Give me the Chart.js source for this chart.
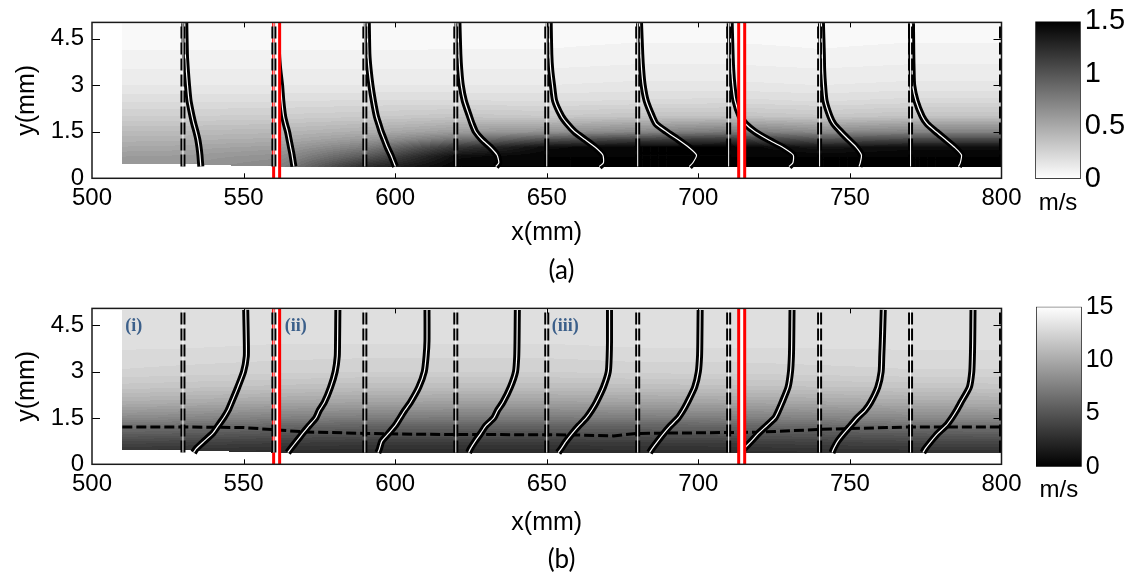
<!DOCTYPE html>
<html>
<head>
<meta charset="utf-8">
<script src="https://cdn.jsdelivr.net/npm/chart.js@4.4.1/dist/chart.umd.min.js"></script>
<style>
  html, body { margin: 0; padding: 0; background: #fff; }
  #wrap { position: relative; width: 1127px; height: 573px; overflow: hidden; }
  canvas { position: absolute; }
</style>
</head>
<body>
<div id="wrap">
  <canvas id="mainA" width="1127" height="286" style="left:0;top:0"></canvas>
  <canvas id="barA" width="112" height="286" style="left:1015px;top:0"></canvas>
  <canvas id="mainB" width="1127" height="287" style="left:0;top:286px"></canvas>
  <canvas id="barB" width="112" height="287" style="left:1015px;top:286px"></canvas>
</div>
<script>
// axes
const xTicks = [500, 550, 600, 650, 700, 750, 800];
const yTicks = [0, 1.5, 3, 4.5];
const cbTicksA = [0, 0.5, 1, 1.5];
const cbTicksB = [0, 5, 10, 15];

// measurement stations (mm) and probe positions (red)
const stations = [530, 560, 590, 620, 650, 680, 710, 740, 770];
const refLines = [530, 560, 590, 620, 650, 680, 710, 740, 770, 800];
const refLineBottom = 0.38;
const probeX = [560.9, 714.3];

// profile heights (mm) and displacement from each station (mm)
const profileY = [0.38, 0.5, 0.75, 1.0, 1.25, 1.5, 1.75, 2.0, 2.5, 3.0, 3.5, 4.0, 5.0];
const profileA = [
  [5.9, 5.8, 5.6, 5.3, 4.9, 4.3, 3.6, 3.0, 2.0, 1.5, 1.1, 0.8, 0.6],
  [6.6, 6.4, 6.0, 5.5, 5.0, 4.5, 3.8, 3.2, 2.6, 2.2, 1.6, 1.2, 1.0],
  [10.1, 9.6, 8.6, 7.4, 6.4, 5.4, 4.6, 3.8, 2.8, 2.0, 1.4, 1.0, 0.8],
  [13.2, 14.2, 13.6, 11.4, 8.6, 6.5, 5.4, 4.5, 2.8, 1.8, 1.3, 1.0, 0.7],
  [17.3, 18.7, 18.5, 16.0, 12.6, 9.2, 6.8, 4.9, 2.6, 1.9, 1.3, 1.0, 0.8],
  [17.0, 18.2, 19.4, 16.8, 13.3, 9.5, 6.1, 4.8, 2.8, 1.8, 1.3, 1.0, 0.6],
  [19.9, 21.2, 21.3, 17.8, 13.0, 8.7, 5.6, 3.8, 2.1, 1.4, 1.0, 0.8, 0.5],
  [13.0, 13.4, 13.8, 12.1, 9.5, 7.0, 4.7, 3.4, 1.8, 1.3, 1.0, 0.9, 0.6],
  [15.8, 16.4, 16.8, 14.5, 11.5, 8.4, 5.5, 3.8, 1.8, 0.7, 0.5, 0.4, 0.3]
];
const profileB = [
  [3.5, 4.3, 7.0, 9.8, 11.6, 13.4, 14.9, 16.0, 18.1, 20.0, 20.9, 20.9, 20.7],
  [4.6, 5.5, 7.5, 9.5, 11.6, 13.8, 15.0, 16.6, 18.7, 20.2, 20.9, 21.0, 21.1],
  [4.3, 4.8, 5.6, 7.8, 10.0, 11.6, 13.2, 15.0, 17.8, 19.6, 20.2, 20.5, 20.5],
  [4.2, 4.8, 6.4, 8.2, 9.9, 12.5, 13.8, 15.5, 18.0, 19.7, 20.1, 20.2, 20.3],
  [3.8, 4.7, 6.4, 8.4, 10.6, 13.0, 14.8, 16.3, 18.7, 20.3, 20.6, 20.7, 20.7],
  [3.9, 4.7, 6.6, 8.6, 10.8, 13.3, 15.0, 16.4, 18.8, 20.0, 20.4, 20.5, 20.6],
  [4.0, 5.0, 7.5, 9.8, 12.5, 15.2, 16.5, 17.6, 19.6, 20.4, 20.7, 20.8, 20.9],
  [4.1, 4.6, 6.0, 8.0, 10.2, 12.4, 15.0, 16.8, 19.2, 20.3, 20.5, 20.7, 21.0],
  [4.1, 4.8, 6.8, 9.0, 11.7, 13.6, 15.2, 16.6, 19.4, 20.2, 20.4, 20.5, 20.6]
];

// dashed layer edge in panel (b)
const edgeX = [510, 530, 550, 560, 570, 590, 610, 640, 660, 672, 680, 700, 710, 720, 740, 770, 800];
const edgeY = [1.21, 1.21, 1.19, 1.12, 1.05, 1.0, 0.97, 0.96, 0.95, 0.92, 1.0, 1.02, 1.03, 1.04, 1.13, 1.21, 1.21];

// contour field grid
const fieldX = [510, 530, 560, 590, 620, 650, 680, 710, 740, 770, 800];
const fieldY = [0.4, 0.7, 1.0, 1.25, 1.5, 2.0, 2.5, 3.0, 4.0, 5.0];
const fieldA = [
  [0.62, 0.64, 0.72, 1.25, 1.5, 1.5, 1.5, 1.5, 1.5, 1.5, 1.5],
  [0.6, 0.61, 0.66, 1.0, 1.45, 1.5, 1.5, 1.5, 1.5, 1.5, 1.5],
  [0.53, 0.54, 0.58, 0.78, 1.2, 1.45, 1.5, 1.5, 1.4, 1.45, 1.45],
  [0.47, 0.48, 0.5, 0.62, 0.85, 1.05, 1.15, 1.2, 1.05, 1.1, 1.1],
  [0.42, 0.42, 0.44, 0.5, 0.6, 0.65, 0.72, 0.8, 0.7, 0.75, 0.75],
  [0.3, 0.3, 0.31, 0.33, 0.36, 0.34, 0.37, 0.38, 0.35, 0.38, 0.38],
  [0.22, 0.22, 0.22, 0.23, 0.23, 0.22, 0.23, 0.24, 0.22, 0.24, 0.24],
  [0.15, 0.15, 0.15, 0.15, 0.15, 0.15, 0.16, 0.16, 0.15, 0.16, 0.16],
  [0.08, 0.08, 0.08, 0.08, 0.08, 0.08, 0.09, 0.09, 0.08, 0.09, 0.09],
  [0.04, 0.04, 0.04, 0.04, 0.05, 0.05, 0.05, 0.05, 0.05, 0.05, 0.05]
];
const fieldB = [
  [3.2, 3.0, 2.8, 2.7, 2.7, 2.7, 2.8, 2.8, 3.0, 3.1, 3.2],
  [4.3, 4.1, 3.8, 3.6, 3.6, 3.6, 3.7, 3.8, 4.0, 4.2, 4.3],
  [5.8, 5.6, 5.2, 5.0, 5.0, 5.0, 5.1, 5.2, 5.4, 5.6, 5.8],
  [6.9, 6.7, 6.3, 6.1, 6.0, 6.0, 6.1, 6.2, 6.5, 6.8, 6.9],
  [8.3, 8.1, 7.7, 7.5, 7.4, 7.4, 7.5, 7.6, 7.9, 8.2, 8.3],
  [10.4, 10.2, 9.9, 9.7, 9.6, 9.6, 9.7, 9.8, 10.0, 10.2, 10.3],
  [11.8, 11.7, 11.5, 11.3, 11.3, 11.3, 11.4, 11.5, 11.6, 11.7, 11.8],
  [12.7, 12.6, 12.5, 12.4, 12.4, 12.4, 12.5, 12.5, 12.6, 12.7, 12.7],
  [13.3, 13.3, 13.2, 13.2, 13.2, 13.2, 13.3, 13.3, 13.3, 13.3, 13.3],
  [13.5, 13.5, 13.5, 13.5, 13.5, 13.5, 13.5, 13.5, 13.5, 13.5, 13.5]
];
const wallX = [510, 530, 550, 570, 800];
const wallY = [0.47, 0.46, 0.4, 0.36, 0.36];

// region tags in panel (b)
const tagText = ["(i)", "(ii)", "(iii)"];
const tagX = [513.8, 567.2, 656.1];
const tagY = 4.46;

const FAMILY = "Arial, \"Liberation Sans\", sans-serif";
Chart.defaults.font.family = FAMILY;
Chart.defaults.color = "#000";

function lerp(xs, ys, v) {
    if (v <= xs[0]) return ys[0];
    for (let i = 0; i < xs.length - 1; i++) {
        if (v <= xs[i + 1]) {
            const t = (v - xs[i]) / (xs[i + 1] - xs[i]);
            return ys[i] + t * (ys[i + 1] - ys[i]);
        }
    }
    return ys[ys.length - 1];
}

function cell(arr, v) {
    if (v <= arr[0]) return [0, 0];
    for (let i = 0; i < arr.length - 1; i++) {
        if (v <= arr[i + 1]) return [i, (v - arr[i]) / (arr[i + 1] - arr[i])];
    }
    return [arr.length - 2, 1];
}

function sample(values, xv, yv) {
    const [i, tx] = cell(fieldX, xv);
    const [j, ty] = cell(fieldY, yv);
    const a = values[j][i] * (1 - tx) + values[j][i + 1] * tx;
    const b = values[j + 1][i] * (1 - tx) + values[j + 1][i + 1] * tx;
    return a * (1 - ty) + b * ty;
}

function makeFieldPlugin(values, maxVal, gray) {
    const step = maxVal / 40;
    return {
        id: "field",
        beforeDatasetsDraw(chart) {
            const { ctx, chartArea: a, scales: { x, y } } = chart;
            const left = Math.max(Math.floor(a.left), Math.floor(x.getPixelForValue(fieldX[0])));
            const right = Math.min(Math.ceil(a.right), Math.ceil(x.getPixelForValue(fieldX[fieldX.length - 1])));
            const top = Math.ceil(a.top);
            const bottom = Math.floor(a.bottom);
            const w = right - left;
            const h = bottom - top;
            const off = document.createElement("canvas");
            off.width = w;
            off.height = h;
            const octx = off.getContext("2d");
            const img = octx.createImageData(w, h);
            const yTop = fieldY[fieldY.length - 1];
            for (let i = 0; i < w; i++) {
                const xv = x.getValueForPixel(left + i + 0.5);
                const wall = lerp(wallX, wallY, xv);
                for (let j = 0; j < h; j++) {
                    const yv = y.getValueForPixel(top + j + 0.5);
                    if (yv < wall || yv > yTop) continue;
                    let v = sample(values, xv, yv);
                    v = Math.min(maxVal, Math.floor(v / step) * step);
                    const g = Math.round(gray(v));
                    const k = (j * w + i) * 4;
                    img.data[k] = g;
                    img.data[k + 1] = g;
                    img.data[k + 2] = g;
                    img.data[k + 3] = 255;
                }
            }
            octx.putImageData(img, 0, 0);
            ctx.save();
            ctx.beginPath();
            ctx.rect(a.left, a.top, a.width, a.height);
            ctx.clip();
            ctx.drawImage(off, left, top);
            ctx.restore();
        }
    };
}

function makeFramePlugin(p) {
    return {
        id: "frame",
        afterDraw(chart) {
            const { ctx, chartArea: a, scales: { x, y } } = chart;
            ctx.save();
            if (p.edge) {
                ctx.fillStyle = "#3b5f8a";
                ctx.font = "bold 18px \"Liberation Serif\", \"Times New Roman\", serif";
                ctx.textAlign = "center";
                ctx.textBaseline = "middle";
                tagText.forEach((t, i) => ctx.fillText(t, x.getPixelForValue(tagX[i]), y.getPixelForValue(tagY)));
            }
            // panel caption
            ctx.fillStyle = "#000";
            ctx.font = "26px Lato, \"Open Sans\", sans-serif";
            ctx.textAlign = "center";
            ctx.textBaseline = "middle";
            ctx.fillText(p.label, chart.width / 2 - 2, p.labelY);

            ctx.strokeStyle = "#000";
            ctx.lineWidth = 1;
            ctx.beginPath();
            xTicks.slice(1, -1).forEach(v => {
                const px = Math.round(x.getPixelForValue(v)) + 0.5;
                ctx.moveTo(px, a.bottom);
                ctx.lineTo(px, a.bottom - 5);
                ctx.moveTo(px, a.top);
                ctx.lineTo(px, a.top + 5);
            });
            yTicks.slice(1).forEach(v => {
                const py = Math.round(y.getPixelForValue(v)) + 0.5;
                ctx.moveTo(a.left, py);
                ctx.lineTo(a.left + 8, py);
                ctx.moveTo(a.right, py);
                ctx.lineTo(a.right - 8, py);
            });
            ctx.stroke();
            ctx.strokeStyle = "#1a1a1a";
            ctx.lineWidth = 1.5;
            ctx.strokeRect(a.left, a.top, a.width, a.height);
            ctx.restore();
        }
    };
}

function line(data, color, width, order, extra) {
    return Object.assign({ data, borderColor: color, borderWidth: width, order, showLine: true, pointRadius: 0, tension: 0, fill: false, borderCapStyle: "butt" }, extra || {});
}

function makePanel(id, p) {
    const datasets = [];
    if (p.edge) {
        datasets.push(line(edgeX.map((x, i) => ({ x, y: edgeY[i] })), "#000", 3, 6, { borderDash: [10, 4] }));
    }
    stations.forEach((s, i) => {
        const pts = profileY.map((y, k) => ({ x: s + p.profile[i][k], y }));
        datasets.push(line(pts, "#000", 7, 5, { tension: 0.2, borderJoinStyle: "round" }));
        datasets.push(line(pts, "#fff", 1.2, 4, { tension: 0.2 }));
    });
    probeX.forEach(px => {
        const pts = [{ x: px, y: 0 }, { x: px, y: 5.2 }];
        datasets.push(line(pts, "#ff0000", 9, 3));
        datasets.push(line(pts, "#fff", 3, 2));
    });
    refLines.forEach(s => {
        const pts = [{ x: s, y: refLineBottom }, { x: s, y: 5.2 }];
        datasets.push(line(pts, "#000", 5, 1, { borderDash: [12, 4] }));
        datasets.push(line(pts, "#fff", 1, 0));
    });

    return new Chart(document.getElementById(id), {
        type: "scatter",
        data: { datasets },
        options: {
            responsive: false,
            animation: false,
            devicePixelRatio: 1,
            events: [],
            layout: { padding: { left: 0, top: p.top, right: 125.5, bottom: 0 } },
            plugins: {
                legend: { display: false },
                tooltip: { enabled: false }
            },
            scales: {
                x: {
                    type: "linear",
                    min: 500,
                    max: 800,
                    grid: { display: false, drawTicks: false },
                    border: { display: false },
                    ticks: { font: { family: FAMILY, size: 24 }, padding: 6, maxRotation: 0 },
                    afterBuildTicks: s => { s.ticks = xTicks.map(v => ({ value: v })); },
                    afterFit: s => { s.height = p.xh; },
                    title: { display: true, text: "x(mm)", font: { family: FAMILY, size: 25 }, padding: { top: 0, bottom: p.xtPad } }
                },
                y: {
                    type: "linear",
                    min: 0,
                    max: p.yMax,
                    grid: { display: false, drawTicks: false },
                    border: { display: false },
                    ticks: { font: { family: FAMILY, size: 24 }, padding: 8, callback: v => String(v) },
                    afterBuildTicks: s => { s.ticks = yTicks.map(v => ({ value: v })); },
                    afterFit: s => { s.width = 92; },
                    title: { display: true, text: "y(mm)", font: { family: FAMILY, size: 25 }, padding: { top: 12, bottom: 0 } }
                }
            }
        },
        plugins: [makeFieldPlugin(p.field, p.fieldMax, p.gray), makeFramePlugin(p)]
    });
}

function makeColorbar(id, c) {
    return new Chart(document.getElementById(id), {
        type: "bar",
        data: {
            labels: [""],
            datasets: [{
                data: [[c.ticks[0], c.ticks[c.ticks.length - 1]]],
                backgroundColor: context => {
                    const chart = context.chart;
                    if (!chart.chartArea) return "#888";
                    const ys = chart.scales.y;
                    const g = chart.ctx.createLinearGradient(0, ys.getPixelForValue(c.ticks[0]), 0, ys.getPixelForValue(c.ticks[c.ticks.length - 1]));
                    g.addColorStop(0, c.low);
                    g.addColorStop(1, c.high);
                    return g;
                },
                borderColor: "#000",
                borderWidth: 1,
                borderSkipped: false,
                barPercentage: 1,
                categoryPercentage: 1
            }]
        },
        options: {
            responsive: false,
            animation: false,
            devicePixelRatio: 1,
            events: [],
            layout: { padding: { left: c.left, top: c.top, right: 0, bottom: 0 } },
            plugins: { legend: { display: false }, tooltip: { enabled: false } },
            scales: {
                x: {
                    grid: { display: false, drawTicks: false },
                    border: { display: false },
                    ticks: { display: false },
                    afterFit: s => { s.height = c.xh; },
                    title: { display: true, text: "m/s", font: { family: FAMILY, size: 24 }, padding: { top: 0, bottom: c.unitPad } }
                },
                y: {
                    position: "right",
                    min: c.ticks[0],
                    max: c.ticks[c.ticks.length - 1],
                    grid: { display: false, drawTicks: false },
                    border: { display: false },
                    ticks: { font: { family: FAMILY, size: c.fontSize }, padding: 4, callback: v => String(v) },
                    afterBuildTicks: s => { s.ticks = c.ticks.map(v => ({ value: v })); },
                    afterFit: s => { s.width = c.yw; }
                }
            }
        }
    });
}

makePanel("mainA", {
    label: "(a)", labelY: 271, top: 17.5, yMax: 5.025, xh: 286 - 178.3, xtPad: 37.7,
    profile: profileA, field: fieldA, fieldMax: 1.5, gray: v => 255 * (1 - v / 1.5), edge: false
});
makePanel("mainB", {
    label: "(b)", labelY: 274, top: 19, yMax: 5.05, xh: 287 - 178.3, xtPad: 34.7,
    profile: profileB, field: fieldB, fieldMax: 15, gray: v => 255 * v / 15, edge: true
});
makeColorbar("barA", { ticks: cbTicksA, low: "#ffffff", high: "#000000", left: 20.3, top: 19, yw: 46.3, xh: 107, fontSize: 29, unitPad: 68.6 });
makeColorbar("barB", { ticks: cbTicksB, low: "#000000", high: "#ffffff", left: 21, top: 20.7, yw: 45.3, xh: 106.3, fontSize: 25, unitPad: 68.6 });
</script>
</body>
</html>
